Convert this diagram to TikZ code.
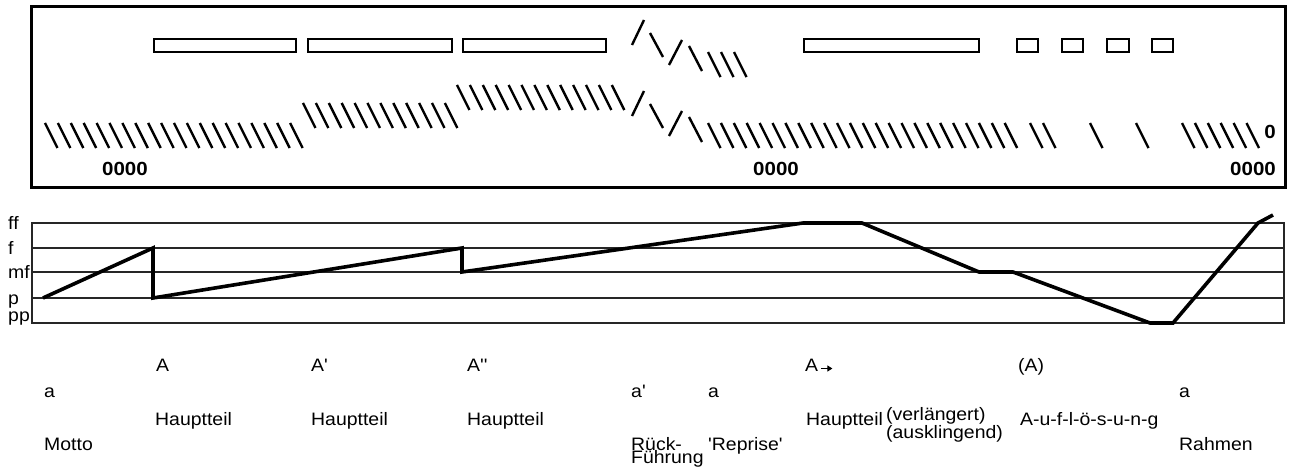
\documentclass[tikz,border=0pt]{standalone}
\usepackage{fontspec}
\newfontfamily\lab{Liberation Sans}[FakeStretch=1.08]
\usetikzlibrary{arrows.meta}
\begin{document}
\begin{tikzpicture}[x=1pt,y=-1pt,
  sl/.style={line width=2.4pt},
  bar/.style={draw,line width=2.7pt},
  gridline/.style={line width=1.3pt,black!85},
  curve/.style={line width=3.6pt,line join=miter},
  lbl/.style={inner sep=0pt,anchor=base west,align=left,font=\lab\fontsize{18}{13.5}\selectfont},
  num/.style={inner sep=0pt,font=\lab\bfseries\fontsize{19}{19}\selectfont}]
\useasboundingbox (0,0) rectangle (1291,470);
% upper box
\draw[line width=3pt] (31,7) rectangle (1285,188);
\foreach \a/\b in {154/296,308/452,463/606,804/979,1017/1038,1062/1083,1107/1129,1152/1173}
  \draw[bar] (\a,39) rectangle (\b,52);
% slash groups
\foreach \k in {0,...,19} \draw[sl] (45+12.9*\k,123) -- ++(12.5,25);
\foreach \k in {0,...,11} \draw[sl] (303+12.9*\k,103) -- ++(12.5,25);
\foreach \k in {0,...,12} \draw[sl] (457+12.9*\k,85) -- ++(12.5,25);
\foreach \k in {0,...,23} \draw[sl] (708+12.9*\k,123) -- ++(12.5,25);
\foreach \x in {1030,1043,1090,1136} \draw[sl] (\x,123) -- ++(12.5,25);
\foreach \k in {0,...,5} \draw[sl] (1182+12.9*\k,123) -- ++(12.5,25);
% zigzags
\draw[sl] (632,116) -- (644,91);
\draw[sl] (650,104) -- (663,128);
\draw[sl] (669,136) -- (682,111);
\draw[sl] (689,117) -- (702,142);
\draw[sl] (632,45) -- (644,20);
\draw[sl] (650,33) -- (663,57);
\draw[sl] (669,65) -- (682,40);
\draw[sl] (689,46) -- (702,71);
\foreach \x in {708,721,734} \draw[sl] (\x,52) -- ++(12.5,25);
\node[num] (z1) at (125,169) {0000};
\node[num] (z2) at (776,169) {0000};
\node[num] (z3) at (1253,169) {0000};
\node[num] (z0) at (1270,131.5) {0};
% dynamics chart
\draw[gridline] (32,223) rectangle (1284,323);
\foreach \y in {248,272,298} \draw[gridline] (32,\y) -- (1284,\y);
\draw[curve] (43,298) -- (153,248) -- (153,298) -- (462,248) -- (462,272) -- (803,223) -- (862,223) -- (979,272) -- (1013,272) -- (1150,323) -- (1173,323) -- (1258,223) -- (1273,215);
\node[lbl] (dff) at (8,230) {ff};
\node[lbl] (df) at (8,255) {f};
\node[lbl] (dmf) at (8,279) {mf};
\node[lbl] (dp) at (8,305) {p};
\node[lbl] (dpp) at (8,322) {pp};
% bottom labels
\node[lbl] (tA1) at (156,372) {A};
\node[lbl] (tA2) at (311,372) {A'};
\node[lbl] (tA3) at (467,372) {A''};
\node[lbl] (tA4) at (805,372) {A};
\draw[line width=1.3pt,-{Triangle[length=5pt,width=6pt]}] ([xshift=3pt,yshift=3.5pt]tA4.base east) -- ++(11,0);
\node[lbl] (tA5) at (1018,372) {(A)};
\node[lbl] (ta1) at (44,398) {a};
\node[lbl] (ta2) at (631,398) {a'};
\node[lbl] (ta3) at (708,398) {a};
\node[lbl] (ta4) at (1179,398) {a};
\node[lbl] (th1) at (155,425) {Hauptteil};
\node[lbl] (th2) at (311,425) {Hauptteil};
\node[lbl] (th3) at (467,425) {Hauptteil};
\node[lbl] (th4) at (806,425) {Hauptteil};
\node[lbl] (tv) at (886,438.5) {(verlängert)\\(ausklingend)};
\node[lbl] (tauf) at (1020,425) {A-u-f-l-ö-s-u-n-g};
\node[lbl] (tm) at (44,450) {Motto};
\node[lbl] (tr) at (631,463.5) {Rück-\\Führung};
\node[lbl] (trep) at (708,450) {'Reprise'};
\node[lbl] (trah) at (1179,450) {Rahmen};
\end{tikzpicture}
\end{document}
